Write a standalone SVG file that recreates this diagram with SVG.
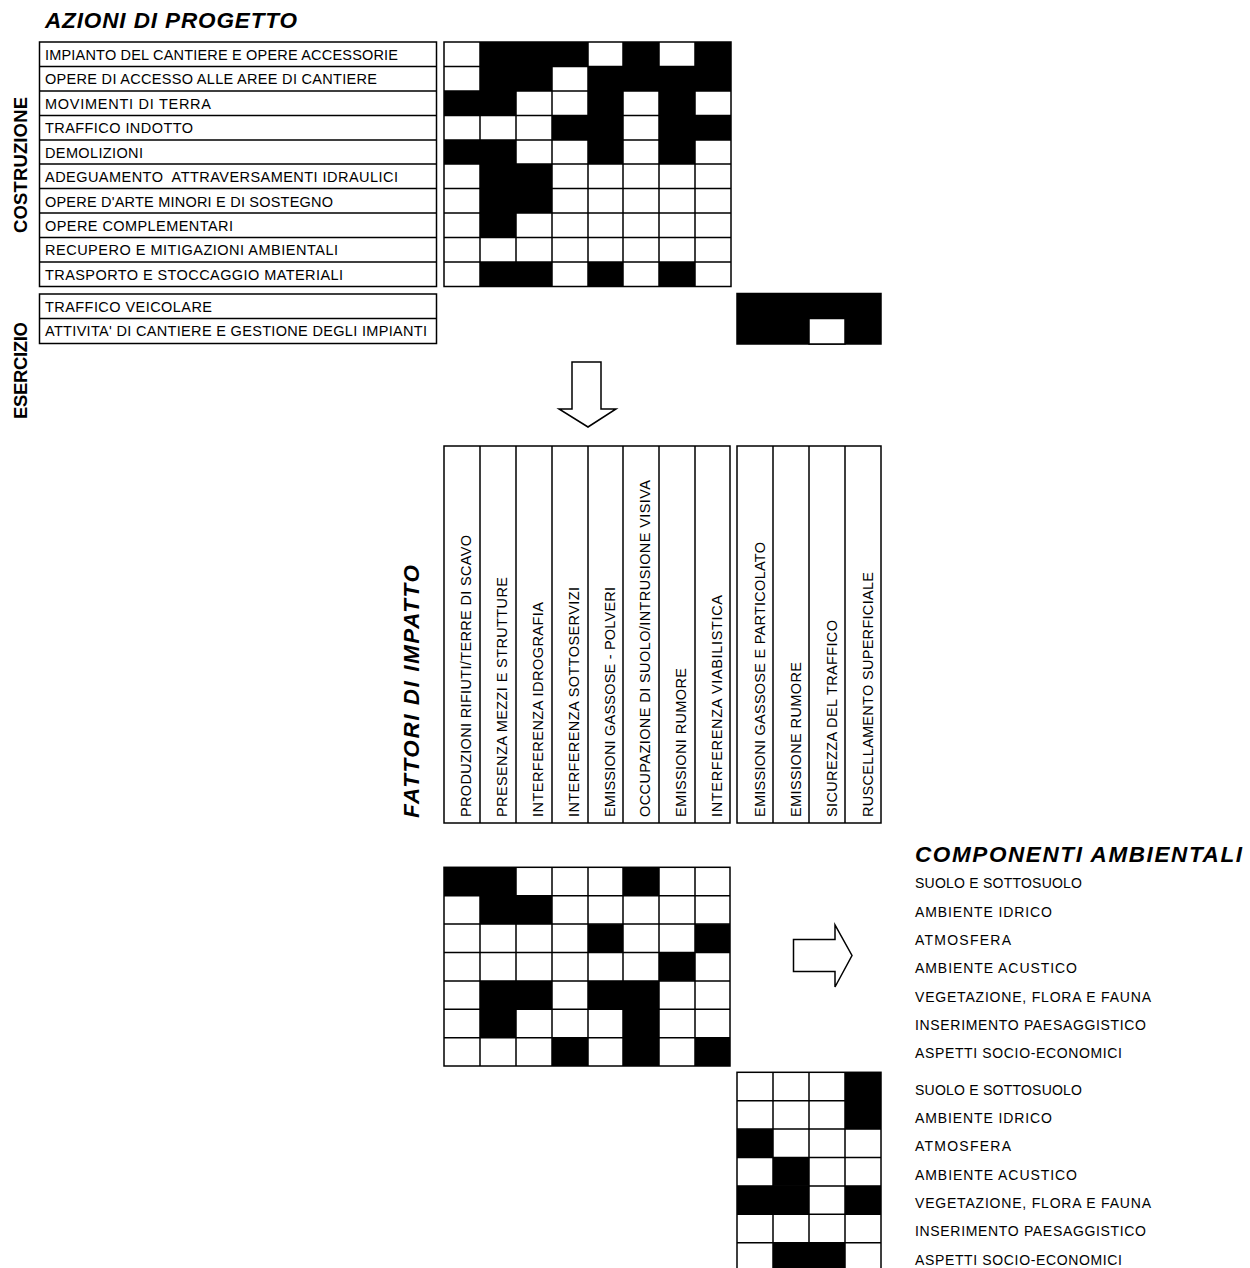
<svg xmlns="http://www.w3.org/2000/svg" width="1250" height="1268" viewBox="0 0 1250 1268">
<style>
.t{font-family:"Liberation Sans",Arial,sans-serif;font-size:14.5px;fill:#000}
.c{font-family:"Liberation Sans",Arial,sans-serif;font-size:14px;fill:#000}
.h{font-family:"Liberation Sans",Arial,sans-serif;font-size:22.5px;font-weight:bold;font-style:italic;fill:#000}
.g{font-family:"Liberation Sans",Arial,sans-serif;font-size:18.5px;font-weight:bold;fill:#000}
.box{fill:#fff;stroke:#000;stroke-width:1.5}
.ln{fill:none;stroke:#000;stroke-width:1.5}
.bk{fill:#000}
.arr{fill:#fff;stroke:#000;stroke-width:1.5;stroke-linejoin:miter}
</style>
<rect width="1250" height="1268" fill="#fff"/>

<g id="titles">
<text class="h" x="45" y="28" textLength="252" lengthAdjust="spacing">AZIONI DI PROGETTO</text>
<text class="h" x="915" y="862" textLength="327" lengthAdjust="spacing">COMPONENTI AMBIENTALI</text>
<text class="h" transform="translate(419,818) rotate(-90)" textLength="253" lengthAdjust="spacing">FATTORI DI IMPATTO</text>
<text class="g" transform="translate(27,233) rotate(-90)" textLength="136" lengthAdjust="spacing">COSTRUZIONE</text>
<text class="g" transform="translate(27,419) rotate(-90)" textLength="97" lengthAdjust="spacing">ESERCIZIO</text>
</g>

<g id="azioni-costruzione">
<rect class="box" x="39.5" y="42" width="397" height="244.5"/>
<path class="ln" d="M39.5 66.5H436.5M39.5 91H436.5M39.5 115.5H436.5M39.5 140H436.5M39.5 164H436.5M39.5 188.5H436.5M39.5 213H436.5M39.5 237.5H436.5M39.5 262H436.5"/>
<text class="t" x="45" y="59.8" textLength="353" lengthAdjust="spacing">IMPIANTO DEL CANTIERE E OPERE ACCESSORIE</text>
<text class="t" x="45" y="84.3" textLength="332" lengthAdjust="spacing">OPERE DI ACCESSO ALLE AREE DI CANTIERE</text>
<text class="t" x="45" y="108.7" textLength="166" lengthAdjust="spacing">MOVIMENTI DI TERRA</text>
<text class="t" x="45" y="133.2" textLength="148" lengthAdjust="spacing">TRAFFICO INDOTTO</text>
<text class="t" x="45" y="157.6" textLength="98" lengthAdjust="spacing">DEMOLIZIONI</text>
<text class="t" x="45" y="182.1" textLength="353" lengthAdjust="spacing" xml:space="preserve" style="white-space:pre">ADEGUAMENTO  ATTRAVERSAMENTI IDRAULICI</text>
<text class="t" x="45" y="206.5" textLength="288" lengthAdjust="spacing">OPERE D'ARTE MINORI E DI SOSTEGNO</text>
<text class="t" x="45" y="231" textLength="188" lengthAdjust="spacing">OPERE COMPLEMENTARI</text>
<text class="t" x="45" y="255.4" textLength="293" lengthAdjust="spacing">RECUPERO E MITIGAZIONI AMBIENTALI</text>
<text class="t" x="45" y="279.9" textLength="298" lengthAdjust="spacing">TRASPORTO E STOCCAGGIO MATERIALI</text>
</g>

<g id="azioni-esercizio">
<rect class="box" x="39.5" y="294" width="397" height="49.5"/>
<path class="ln" d="M39.5 318.5H436.5"/>
<text class="t" x="45" y="311.8" textLength="167" lengthAdjust="spacing">TRAFFICO VEICOLARE</text>
<text class="t" x="45" y="336.2" textLength="382" lengthAdjust="spacing">ATTIVITA' DI CANTIERE E GESTIONE DEGLI IMPIANTI</text>
</g>

<g id="matrix-azioni-costruzione">
<rect class="box" x="444" y="42" width="287" height="244.5"/>
<g class="bk">
<rect x="480" y="42" width="108" height="24.5"/><rect x="623" y="42" width="36" height="24.5"/><rect x="695" y="42" width="36" height="24.5"/>
<rect x="480" y="66.5" width="72" height="24.5"/><rect x="588" y="66.5" width="143" height="24.5"/>
<rect x="444" y="91" width="72" height="24.5"/><rect x="588" y="91" width="35" height="24.5"/><rect x="659" y="91" width="36" height="24.5"/>
<rect x="552" y="115.5" width="71" height="24.5"/><rect x="659" y="115.5" width="72" height="24.5"/>
<rect x="444" y="140" width="72" height="24"/><rect x="588" y="140" width="35" height="24"/><rect x="659" y="140" width="36" height="24"/>
<rect x="480" y="164" width="72" height="24.5"/>
<rect x="480" y="188.5" width="72" height="24.5"/>
<rect x="480" y="213" width="36" height="24.5"/>
<rect x="480" y="262" width="72" height="24.5"/><rect x="588" y="262" width="35" height="24.5"/><rect x="659" y="262" width="36" height="24.5"/>
</g>
<path class="ln" d="M480 42V286.5M516 42V286.5M552 42V286.5M588 42V286.5M623 42V286.5M659 42V286.5M695 42V286.5M444 66.5H731M444 91H731M444 115.5H731M444 140H731M444 164H731M444 188.5H731M444 213H731M444 237.5H731M444 262H731"/>
</g>

<g id="matrix-azioni-esercizio">
<rect x="737" y="293.5" width="144" height="50.5" fill="#000" stroke="#000" stroke-width="1.5"/>
<rect class="box" x="809" y="318.5" width="36" height="25.5"/>
</g>

<g id="fattori">
<rect class="box" x="444" y="446" width="286" height="377"/>
<path class="ln" d="M480 446V823M516 446V823M552 446V823M588 446V823M623 446V823M659 446V823M695 446V823"/>
<rect class="box" x="737" y="446" width="144" height="377"/>
<path class="ln" d="M773 446V823M809 446V823M845 446V823"/>
<text class="t" transform="translate(471,817) rotate(-90)" textLength="282" lengthAdjust="spacing">PRODUZIONI RIFIUTI/TERRE DI SCAVO</text>
<text class="t" transform="translate(507,817) rotate(-90)" textLength="240" lengthAdjust="spacing">PRESENZA MEZZI E STRUTTURE</text>
<text class="t" transform="translate(543,817) rotate(-90)" textLength="215" lengthAdjust="spacing">INTERFERENZA IDROGRAFIA</text>
<text class="t" transform="translate(579,817) rotate(-90)" textLength="230" lengthAdjust="spacing">INTERFERENZA SOTTOSERVIZI</text>
<text class="t" transform="translate(615,817) rotate(-90)" textLength="230" lengthAdjust="spacing">EMISSIONI GASSOSE - POLVERI</text>
<text class="t" transform="translate(650,817) rotate(-90)" textLength="337" lengthAdjust="spacing">OCCUPAZIONE DI SUOLO/INTRUSIONE VISIVA</text>
<text class="t" transform="translate(686,817) rotate(-90)" textLength="149" lengthAdjust="spacing">EMISSIONI RUMORE</text>
<text class="t" transform="translate(722,817) rotate(-90)" textLength="222" lengthAdjust="spacing">INTERFERENZA VIABILISTICA</text>
<text class="t" transform="translate(765,817) rotate(-90)" textLength="275" lengthAdjust="spacing">EMISSIONI GASSOSE E PARTICOLATO</text>
<text class="t" transform="translate(801,817) rotate(-90)" textLength="155" lengthAdjust="spacing">EMISSIONE RUMORE</text>
<text class="t" transform="translate(837,817) rotate(-90)" textLength="197" lengthAdjust="spacing">SICUREZZA DEL TRAFFICO</text>
<text class="t" transform="translate(873,817) rotate(-90)" textLength="245" lengthAdjust="spacing">RUSCELLAMENTO SUPERFICIALE</text>
</g>

<g id="matrix-fattori-costruzione">
<rect class="box" x="444" y="867.3" width="286" height="198.7"/>
<g class="bk">
<rect x="444" y="867.3" width="72" height="28.4"/><rect x="623" y="867.3" width="36" height="28.4"/>
<rect x="480" y="895.7" width="72" height="28.4"/>
<rect x="588" y="924.1" width="35" height="28.4"/><rect x="695" y="924.1" width="35" height="28.4"/>
<rect x="659" y="952.5" width="36" height="28.4"/>
<rect x="480" y="980.9" width="72" height="28.4"/><rect x="588" y="980.9" width="71" height="28.4"/>
<rect x="480" y="1009.3" width="36" height="28.4"/><rect x="623" y="1009.3" width="36" height="28.4"/>
<rect x="552" y="1037.7" width="36" height="28.3"/><rect x="623" y="1037.7" width="36" height="28.3"/><rect x="695" y="1037.7" width="35" height="28.3"/>
</g>
<path class="ln" d="M480 867.3V1066M516 867.3V1066M552 867.3V1066M588 867.3V1066M623 867.3V1066M659 867.3V1066M695 867.3V1066M444 895.7H730M444 924.1H730M444 952.5H730M444 980.9H730M444 1009.3H730M444 1037.7H730"/>
</g>

<g id="matrix-fattori-esercizio">
<rect class="box" x="737" y="1072.3" width="144" height="198.7"/>
<g class="bk">
<rect x="845" y="1072.3" width="36" height="56.8"/>
<rect x="737" y="1129.1" width="36" height="28.4"/>
<rect x="773" y="1157.5" width="36" height="28.4"/>
<rect x="737" y="1185.9" width="72" height="28.4"/><rect x="845" y="1185.9" width="36" height="28.4"/>
<rect x="773" y="1242.7" width="72" height="28.3"/>
</g>
<path class="ln" d="M773 1072.3V1271M809 1072.3V1271M845 1072.3V1271M737 1100.7H881M737 1129.1H881M737 1157.5H881M737 1185.9H881M737 1214.3H881M737 1242.7H881"/>
</g>

<g id="componenti-costruzione">
<text class="c" x="915" y="888.3" textLength="167" lengthAdjust="spacing">SUOLO E SOTTOSUOLO</text>
<text class="c" x="915" y="916.7" textLength="137" lengthAdjust="spacing">AMBIENTE IDRICO</text>
<text class="c" x="915" y="945" textLength="96" lengthAdjust="spacing">ATMOSFERA</text>
<text class="c" x="915" y="973.3" textLength="162" lengthAdjust="spacing">AMBIENTE ACUSTICO</text>
<text class="c" x="915" y="1001.7" textLength="236" lengthAdjust="spacing">VEGETAZIONE, FLORA E FAUNA</text>
<text class="c" x="915" y="1030" textLength="231" lengthAdjust="spacing">INSERIMENTO PAESAGGISTICO</text>
<text class="c" x="915" y="1058.3" textLength="207" lengthAdjust="spacing">ASPETTI SOCIO-ECONOMICI</text>
</g>

<g id="componenti-esercizio">
<text class="c" x="915" y="1094.5" textLength="167" lengthAdjust="spacing">SUOLO E SOTTOSUOLO</text>
<text class="c" x="915" y="1122.9" textLength="137" lengthAdjust="spacing">AMBIENTE IDRICO</text>
<text class="c" x="915" y="1151.2" textLength="96" lengthAdjust="spacing">ATMOSFERA</text>
<text class="c" x="915" y="1179.6" textLength="162" lengthAdjust="spacing">AMBIENTE ACUSTICO</text>
<text class="c" x="915" y="1207.9" textLength="236" lengthAdjust="spacing">VEGETAZIONE, FLORA E FAUNA</text>
<text class="c" x="915" y="1236.3" textLength="231" lengthAdjust="spacing">INSERIMENTO PAESAGGISTICO</text>
<text class="c" x="915" y="1264.6" textLength="207" lengthAdjust="spacing">ASPETTI SOCIO-ECONOMICI</text>
</g>

<g id="connectors">
<polygon class="arr" points="572,362 601,362 601,409 616,409 588,427 559,409 572,409"/>
<polygon class="arr" points="793.5,939.5 835,939.5 835,925 852,955.5 835,987 835,971.5 793.5,971.5"/>
</g>
</svg>
